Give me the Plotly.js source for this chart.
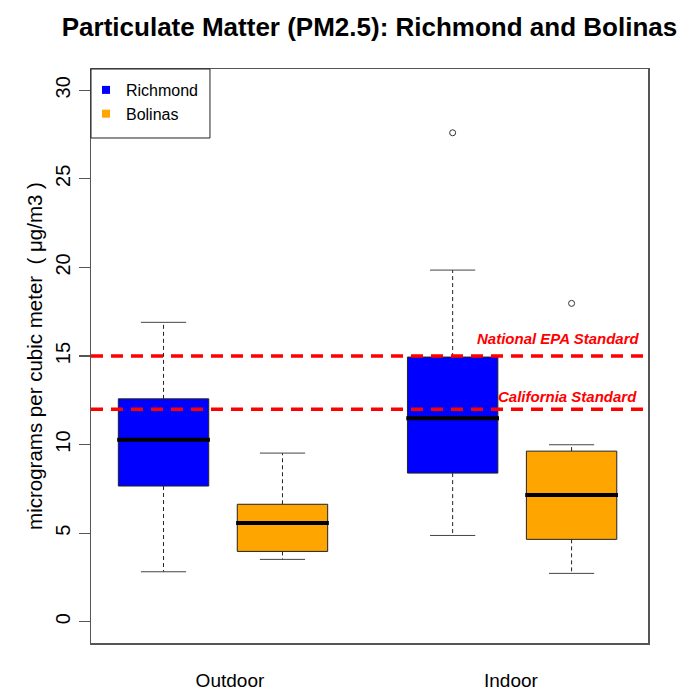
<!DOCTYPE html>
<html>
<head>
<meta charset="utf-8">
<script src="https://cdn.plot.ly/plotly-3.0.1.min.js"></script>
<style>html,body{margin:0;padding:0;background:#fff;}#chart{width:678px;height:692px;}</style>
</head>
<body>
<div id="chart"></div>
<script>
const categories = ["Outdoor", "Indoor"];
const sites = ["Richmond", "Bolinas"];

const richmondLowerWhisker = [2.82, 4.87];
const richmondQ1 = [7.66, 8.39];
const richmondMedian = [10.27, 11.48];
const richmondQ3 = [12.58, 14.94];
const richmondUpperWhisker = [16.90, 19.85];
const richmondOutliers = [[], [27.60]];

const bolinasLowerWhisker = [3.52, 2.73];
const bolinasQ1 = [3.97, 4.65];
const bolinasMedian = [5.57, 7.15];
const bolinasQ3 = [6.63, 9.63];
const bolinasUpperWhisker = [9.52, 9.99];
const bolinasOutliers = [[], [17.97]];

const standardNames = ["National EPA Standard", "California Standard"];
const standardValues = [15, 12];
const standardLabelY = [15.98, 12.71];

const yTicks = [0, 5, 10, 15, 20, 25, 30];

const SANS = "'Liberation Sans', Arial, sans-serif";

const series = [
  {name: sites[0], color: "#0000FF", offset: -0.2057,
   lw: richmondLowerWhisker, q1: richmondQ1, med: richmondMedian, q3: richmondQ3, uw: richmondUpperWhisker, out: richmondOutliers},
  {name: sites[1], color: "#FFA500", offset: 0.2057,
   lw: bolinasLowerWhisker, q1: bolinasQ1, med: bolinasMedian, q3: bolinasQ3, uw: bolinasUpperWhisker, out: bolinasOutliers}
];
const boxWidth = 0.3127;
const capHalf = boxWidth * 0.25;
const medHalf = boxWidth * 0.5 + 0.004;

const traces = [];
series.forEach(s => {
  const xs = categories.map((c, i) => i + s.offset);
  traces.push({
    type: "box", x: xs, q1: s.q1, median: s.med, q3: s.q3,
    lowerfence: s.q1, upperfence: s.q3, width: boxWidth,
    fillcolor: s.color, line: {color: "#222", width: 1},
    whiskerwidth: 0, showlegend: false, hoverinfo: "skip"
  });
  const wx = [], wy = [];
  xs.forEach((x, i) => { wx.push(x, x, null, x, x, null); wy.push(s.q3[i], s.uw[i], null, s.q1[i], s.lw[i], null); });
  traces.push({type: "scatter", mode: "lines", x: wx, y: wy, line: {color: "#222", width: 1, dash: "4px,3px"}, showlegend: false, hoverinfo: "skip"});
  const cx = [], cy = [];
  xs.forEach((x, i) => { cx.push(x - capHalf, x + capHalf, null, x - capHalf, x + capHalf, null); cy.push(s.uw[i], s.uw[i], null, s.lw[i], s.lw[i], null); });
  traces.push({type: "scatter", mode: "lines", x: cx, y: cy, line: {color: "#444", width: 1}, showlegend: false, hoverinfo: "skip"});
  const mx = [], my = [];
  xs.forEach((x, i) => { mx.push(x - medHalf, x + medHalf, null); my.push(s.med[i], s.med[i], null); });
  traces.push({type: "scatter", mode: "lines", x: mx, y: my, line: {color: "#000", width: 4}, showlegend: false, hoverinfo: "skip"});
  const ox = [], oy = [];
  xs.forEach((x, i) => s.out[i].forEach(v => { ox.push(x); oy.push(v); }));
  traces.push({type: "scatter", mode: "markers", x: ox, y: oy, marker: {symbol: "circle-open", size: 6, color: "#333", line: {width: 1}}, showlegend: false, hoverinfo: "skip"});
});
series.forEach(s => {
  traces.push({type: "scatter", mode: "markers", x: [null], y: [null], name: s.name,
    marker: {symbol: "square", size: 8, color: s.color}});
});

const shapes = standardValues.map(v => ({
  type: "line", xref: "paper", yref: "y", x0: 0, x1: 1, y0: v, y1: v,
  line: {color: "#FF0000", width: 3.5, dash: "12px,8px"}, layer: "above"
}));
// legend frame
shapes.push({type: "rect", xref: "paper", yref: "paper", x0: 0, x1: 0.2136, y0: 0.8798, y1: 1,
  line: {color: "#222", width: 1}, fillcolor: "#fff", layer: "above"});

const annotations = standardNames.map((n, i) => ({
  text: n, xref: "paper", yref: "y", x: 0.989 - i * 0.005, y: standardLabelY[i],
  xanchor: "right", yanchor: "middle", showarrow: false,
  font: {family: SANS, size: 15, color: "#FF0000", weight: "bold", style: "italic"}
}));

const layout = {
  width: 678, height: 692,
  margin: {l: 91, r: 30, t: 69, b: 49},
  paper_bgcolor: "#fff", plot_bgcolor: "#fff",
  title: {text: "Particulate Matter (PM2.5): Richmond and Bolinas", x: 0.5, xref: "paper", y: 0.961, yref: "container", yanchor: "middle",
    font: {family: SANS, size: 26, color: "#000", weight: "bold"}},
  xaxis: {range: [-0.4566, 1.470], tickvals: categories.map((c, i) => i + (i === 0 ? 0.024 : -0.004)), ticktext: categories,
    ticks: "", showgrid: false, zeroline: false, showline: true, mirror: true, linecolor: "#555", linewidth: 1.5,
    tickfont: {family: SANS, size: 19, color: "#000"}, ticklabelstandoff: 20},
  yaxis: {range: [-1.2, 31.2], tickvals: yTicks, ticktext: yTicks.map(String), tickangle: -90,
    ticks: "outside", ticklen: 11, tickcolor: "#555", tickwidth: 1.2, showgrid: false, zeroline: false,
    showline: true, mirror: true, linecolor: "#555", linewidth: 1.5,
    tickfont: {family: SANS, size: 20, color: "#000"}, ticklabelstandoff: 1,
    title: {text: "micrograms per cubic meter  ( μg/m3 )", font: {family: SANS, size: 20.5, color: "#000"}, standoff: 3}},
  showlegend: true,
  legend: {x: -0.009, y: 1 - 4 / 574, xanchor: "left", yanchor: "top", bgcolor: "rgba(0,0,0,0)", borderwidth: 0,
    font: {family: SANS, size: 16, color: "#000"}},
  shapes: shapes, annotations: annotations
};

Plotly.newPlot("chart", traces, layout, {displayModeBar: false, staticPlot: true});
</script>
</body>
</html>
